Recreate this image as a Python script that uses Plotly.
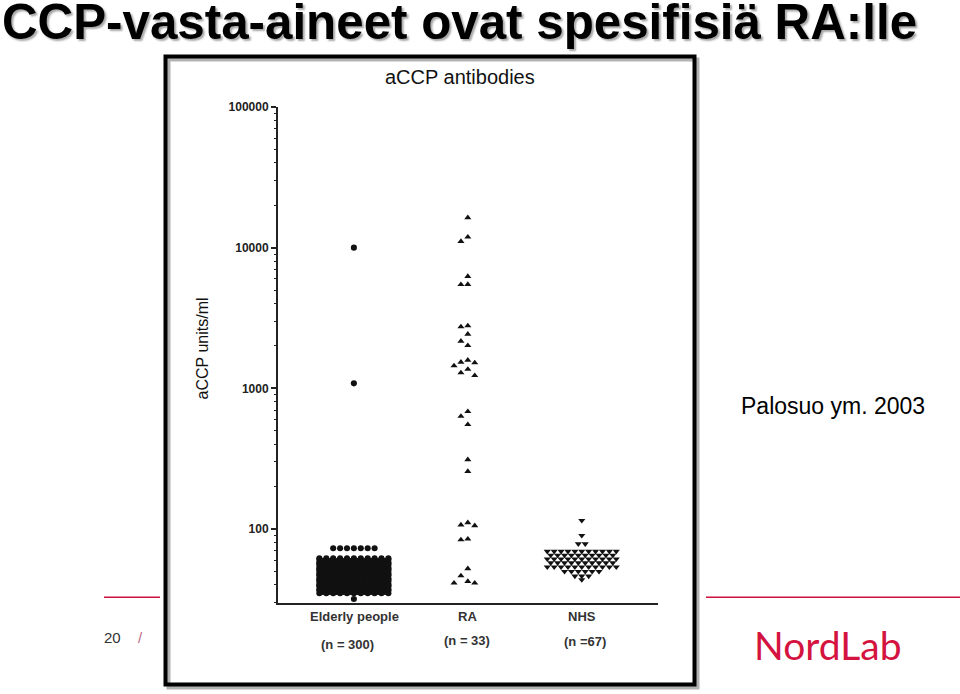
import numpy as np
import plotly.graph_objects as go

W, H = 960, 694
# plot-area pixel box
L, R, T, B = 278, 658, 107, 603

# ---------------- data ----------------
categories = ["Elderly people", "RA", "NHS"]
n_labels = ["(n = 300)", "(n = 33)", "(n =67)"]
y_tick_vals = [100, 1000, 10000, 100000]
y_tick_text = ["100", "1000", "10000", "100000"]

# Elderly people (n = 300): two high outliers, a low one, and dense rows (value, count)
elderly_single = [10000, 1085, 31.8]
elderly_row_values = [73.0, 62.0, 60.6, 59.3, 58.0, 56.7, 55.5, 54.3, 53.1, 51.9, 50.8,
                      49.7, 48.6, 47.5, 46.5, 45.5, 44.5, 43.5, 42.6, 41.6, 40.7,
                      39.8, 39.0, 38.1, 37.3, 36.5, 35.7, 34.9]
elderly_row_counts = [7, 11, 11, 10, 11, 11, 11, 10, 11, 11, 11,
                      10, 11, 11, 11, 10, 11, 11, 11, 10, 11,
                      11, 11, 10, 11, 11, 10, 11]

# RA (n = 33)
ra_values = [16360, 11900, 11090, 6250, 5480, 5470, 2785, 2740, 2427, 2164, 2016,
             1585, 1534, 1519, 1446, 1367, 1290, 1233, 684, 633, 553, 311, 257,
             111, 107, 105.6, 84.9, 83.9, 52.2, 46.5, 42.4, 41.3, 41.3]

# NHS (n = 67): rows (value, count)
nhs_row_values = [115, 90, 78.5, 69.3, 65.1, 61.2, 57.4, 53.7, 49.9, 46.3, 43.6]
nhs_row_counts = [1, 1, 2, 11, 10, 11, 10, 11, 6, 3, 1]

# ---------------- layout helpers ----------------
X0, X1 = -0.666, 2.669
YLOG0, YLOG1 = 1.474, 5.0
PX_PER_UNIT = (R - L) / (X1 - X0)
PX_PER_DEC = (B - T) / (YLOG1 - YLOG0)
DX = 6.9 / PX_PER_UNIT  # column step of the swarm


def fx(px):
    return (px - L) / (R - L)


def fy(py):
    return (B - py) / (B - T)


def ypix(v):
    return (YLOG1 - np.log10(v)) * PX_PER_DEC


def rows_layout(values, counts, center):
    xs, ys = [], []
    for v, n in zip(values, counts):
        for i in range(n):
            xs.append(center + (i - (n - 1) / 2) * DX)
            ys.append(v)
    return xs, ys


def swarm(values, center, d):
    placed, xs, ys = [], [], []
    cands = [0, -1, 1, -2, 2, -3, 3, -4, 4, -5, 5]
    for v in sorted(values, reverse=True):
        yp = ypix(v)
        k = cands[-1]
        for c in cands:
            if all(not (pc == c and abs(yp - py) < d) for pc, py in placed):
                k = c
                break
        placed.append((k, yp))
        xs.append(center + k * DX)
        ys.append(v)
    return xs, ys


ex, ey = rows_layout(elderly_single + elderly_row_values,
                     [1] * len(elderly_single) + elderly_row_counts, 0)
rx, ry = swarm(ra_values, 1, 7.5)
nx, ny = rows_layout(nhs_row_values, nhs_row_counts, 2)

fig = go.Figure()
fig.add_trace(go.Scatter(x=ex, y=ey, mode="markers", name=categories[0],
                         marker=dict(symbol="circle", size=6.1, color="#111", line=dict(width=0))))
fig.add_trace(go.Scatter(x=rx, y=ry, mode="markers", name=categories[1],
                         marker=dict(symbol="triangle-up", size=6.2, color="#111", line=dict(width=0))))
fig.add_trace(go.Scatter(x=nx, y=ny, mode="markers", name=categories[2],
                         marker=dict(symbol="triangle-down", size=6.2, color="#111", line=dict(width=0))))

fig.update_layout(
    width=W, height=H,
    margin=dict(l=L, r=W - R, t=T, b=H - B, pad=0),
    paper_bgcolor="white", plot_bgcolor="rgba(0,0,0,0)",
    showlegend=False,
    font=dict(family="Liberation Sans, Arial", color="#111"),
)
fig.update_xaxes(range=[X0, X1], showticklabels=False, ticks="", showgrid=False,
                 zeroline=False, showline=True, linecolor="#222", linewidth=2)
fig.update_yaxes(type="log", range=[YLOG0, YLOG1], tickmode="array",
                 tickvals=y_tick_vals, ticktext=y_tick_text,
                 ticks="outside", ticklen=5, tickwidth=1.5, tickcolor="#222",
                 showline=True, linecolor="#222", linewidth=2, showgrid=False, zeroline=False,
                 tickfont=dict(family="Liberation Sans, Arial", size=12, color="#222", weight="bold"),
                 minor=dict(ticks="outside", ticklen=2.5, tickwidth=1.2, tickcolor="#222",
                            dtick="D1", showgrid=False))

red = "#cf1140"
shapes = [
    # frame shadow + frame
    dict(type="rect", xref="paper", yref="paper", x0=fx(168.5), x1=fx(697.5), y0=fy(687.5), y1=fy(59.5),
         line=dict(color="rgba(0,0,0,0.30)", width=4), layer="below"),
    dict(type="rect", xref="paper", yref="paper", x0=fx(165.5), x1=fx(694.5), y0=fy(684.5), y1=fy(56.5),
         line=dict(color="#000", width=4), layer="above"),
    # red rules
    dict(type="line", xref="paper", yref="paper", x0=fx(104), x1=fx(160), y0=fy(597.3), y1=fy(597.3),
         line=dict(color=red, width=1.5)),
    dict(type="line", xref="paper", yref="paper", x0=fx(706), x1=fx(960), y0=fy(597.3), y1=fy(597.3),
         line=dict(color=red, width=1.5)),
]
fig.update_layout(shapes=shapes)


def add_text(text, px, py, size, color="#111", xanchor="center", family="Liberation Sans, Arial",
             bold=False, angle=0, shadow=None):
    font = dict(family=family, size=size, color=color)
    if shadow:
        font["shadow"] = shadow
    fig.add_annotation(text=("<b>%s</b>" % text) if bold else text, x=fx(px), y=fy(py),
                       xref="paper", yref="paper", xanchor=xanchor, yanchor="middle",
                       showarrow=False, textangle=angle, font=font)


# slide title (with a soft drop shadow)
add_text("CCP-vasta-aineet ovat spesifisiä RA:lle", 0, 21, 49.3, color="#000",
         xanchor="left", family="Liberation Sans", bold=True,
         shadow="2px 2px 2px rgba(0,0,0,0.35)")
add_text("aCCP antibodies", 459.6, 77, 20)
add_text("aCCP units/ml", 202.4, 348, 16, angle=-90)
cat_x = [354.4, 467.5, 581.8]
n_x = [347.5, 467.2, 585.3]
n_y = [644, 640, 641]
for i in range(3):
    add_text(categories[i], cat_x[i], 616.7, 13, color="#333", bold=True)
    add_text(n_labels[i], n_x[i], n_y[i], 13, color="#333", bold=True)
add_text("Palosuo ym. 2003", 739, 406, 23, color="#000", xanchor="left")
add_text("20", 112, 637.7, 15, color="#333")
add_text("/", 140, 637.5, 15, color="#c06a8a")
add_text("NordLab", 827.5, 645, 39, color="#d4133f", family="Lato")

fig.write_html("out.html", config={"displayModeBar": False},
               post_script="document.body.style.margin='0';")
